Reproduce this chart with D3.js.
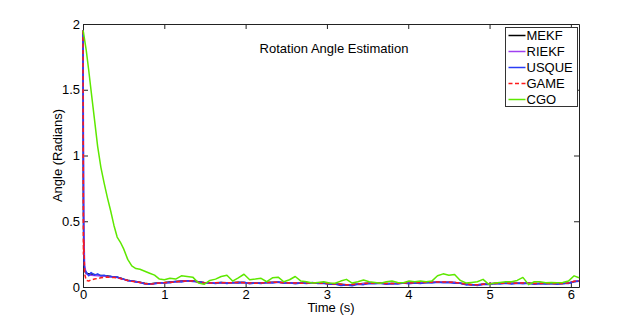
<!DOCTYPE html>
<html>
<head>
<meta charset="utf-8">
<script src="https://cdn.jsdelivr.net/npm/d3@7"></script>
<style>
    body { margin: 0; background: #fff; }
    svg { display: block; font-family: "Liberation Sans", Arial, Helvetica, sans-serif; }
</style>
</head>
<body>
<svg id="chart"></svg>
<script>
// sample times (s), shared by every series
const time = [
    0, 0.005, 0.01, 0.02, 0.04, 0.07, 0.10, 0.14, 0.18, 0.22,
    0.26, 0.30, 0.34, 0.38, 0.42, 0.46, 0.50, 0.55, 0.60, 0.65,
    0.70, 0.76, 0.82, 0.88, 0.94, 1.00,
    1.07, 1.14, 1.21, 1.28, 1.35, 1.42, 1.49, 1.56, 1.63, 1.70,
    1.77, 1.84, 1.91, 1.98, 2.05, 2.12, 2.19, 2.26, 2.33, 2.40,
    2.47, 2.54, 2.61, 2.68, 2.75, 2.82, 2.89, 2.96, 3.03, 3.10,
    3.17, 3.24, 3.31, 3.38, 3.45, 3.52, 3.59, 3.66, 3.73, 3.80,
    3.87, 3.94, 4.01, 4.08, 4.15, 4.22, 4.29, 4.36, 4.43, 4.50,
    4.57, 4.64, 4.71, 4.78, 4.85, 4.92, 4.99, 5.06, 5.13, 5.20,
    5.27, 5.34, 5.41, 5.48, 5.55, 5.62, 5.69, 5.76, 5.83, 5.90,
    5.97, 6.04, 6.10
];

const mekf = [
    1.95, 0.7, 0.22, 0.12, 0.105, 0.1, 0.098, 0.095, 0.09, 0.088,
    0.086, 0.084, 0.08, 0.078, 0.075, 0.068, 0.06, 0.052, 0.046, 0.042,
    0.036, 0.028, 0.022, 0.028, 0.032, 0.034,
    0.038, 0.042, 0.045, 0.048, 0.047, 0.04, 0.034, 0.032, 0.033, 0.034,
    0.032, 0.033, 0.036, 0.034, 0.031, 0.03, 0.031, 0.034, 0.036, 0.037,
    0.034, 0.032, 0.031, 0.03, 0.031, 0.033, 0.031, 0.029, 0.026, 0.023,
    0.02, 0.017, 0.019, 0.023, 0.026, 0.029, 0.031, 0.029, 0.027, 0.026,
    0.028, 0.031, 0.031, 0.031, 0.033, 0.035, 0.036, 0.037, 0.037, 0.036,
    0.034, 0.029, 0.022, 0.018, 0.017, 0.021, 0.025, 0.027, 0.029, 0.029,
    0.028, 0.029, 0.031, 0.029, 0.026, 0.027, 0.028, 0.027, 0.026, 0.027,
    0.031, 0.042, 0.046
];

const riekf = [
    1.95, 1.2, 0.45, 0.16, 0.1, 0.092, 0.09, 0.088, 0.086, 0.085,
    0.083, 0.08, 0.078, 0.076, 0.072, 0.066, 0.058, 0.05, 0.045, 0.04,
    0.034, 0.026, 0.02, 0.026, 0.03, 0.033,
    0.036, 0.04, 0.043, 0.046, 0.046, 0.038, 0.032, 0.03, 0.032, 0.033,
    0.03, 0.032, 0.035, 0.033, 0.03, 0.028, 0.03, 0.033, 0.035, 0.036,
    0.033, 0.03, 0.03, 0.028, 0.03, 0.032, 0.03, 0.028, 0.025, 0.022,
    0.018, 0.015, 0.018, 0.022, 0.025, 0.028, 0.03, 0.028, 0.025, 0.025,
    0.027, 0.03, 0.03, 0.03, 0.032, 0.035, 0.036, 0.037, 0.037, 0.036,
    0.034, 0.028, 0.02, 0.017, 0.016, 0.02, 0.024, 0.026, 0.028, 0.028,
    0.027, 0.028, 0.03, 0.028, 0.025, 0.026, 0.027, 0.026, 0.025, 0.026,
    0.03, 0.042, 0.045
];

const usque = [
    1.95, 0.55, 0.25, 0.13, 0.115, 0.085, 0.11, 0.09, 0.1, 0.085,
    0.09, 0.08, 0.082, 0.074, 0.076, 0.064, 0.06, 0.048, 0.047, 0.038,
    0.035, 0.022, 0.02, 0.024, 0.03, 0.03,
    0.032, 0.042, 0.038, 0.048, 0.042, 0.04, 0.028, 0.033, 0.027, 0.035,
    0.026, 0.034, 0.03, 0.036, 0.025, 0.03, 0.026, 0.035, 0.03, 0.038,
    0.028, 0.032, 0.025, 0.03, 0.026, 0.034, 0.026, 0.029, 0.02, 0.022,
    0.012, 0.016, 0.01, 0.02, 0.018, 0.027, 0.024, 0.029, 0.02, 0.026,
    0.022, 0.031, 0.025, 0.031, 0.027, 0.034, 0.03, 0.036, 0.032, 0.035,
    0.028, 0.029, 0.016, 0.019, 0.012, 0.021, 0.019, 0.027, 0.023, 0.029,
    0.022, 0.029, 0.025, 0.029, 0.02, 0.027, 0.022, 0.027, 0.021, 0.027,
    0.027, 0.04, 0.043
];

const game = [
    1.95, 0.25, 0.36, 0.1, 0.05, 0.045, 0.055, 0.06, 0.065, 0.07,
    0.074, 0.076, 0.074, 0.072, 0.07, 0.064, 0.056, 0.05, 0.044, 0.04,
    0.034, 0.026, 0.02, 0.026, 0.03, 0.033,
    0.035, 0.039, 0.043, 0.046, 0.045, 0.037, 0.031, 0.03, 0.032, 0.033,
    0.031, 0.033, 0.035, 0.033, 0.03, 0.029, 0.031, 0.034, 0.035, 0.036,
    0.033, 0.031, 0.031, 0.029, 0.03, 0.032, 0.03, 0.028, 0.026, 0.023,
    0.02, 0.017, 0.019, 0.023, 0.026, 0.028, 0.03, 0.029, 0.026, 0.026,
    0.028, 0.031, 0.031, 0.032, 0.034, 0.036, 0.037, 0.038, 0.038, 0.037,
    0.035, 0.029, 0.022, 0.018, 0.017, 0.021, 0.025, 0.027, 0.028, 0.029,
    0.028, 0.029, 0.03, 0.029, 0.026, 0.027, 0.028, 0.027, 0.026, 0.027,
    0.031, 0.043, 0.046
];

const cgo = [
    1.95, 1.94, 1.92, 1.88, 1.80, 1.65, 1.49, 1.28, 1.07, 0.91,
    0.79, 0.68, 0.58, 0.47, 0.38, 0.34, 0.29, 0.21, 0.16, 0.14,
    0.135, 0.12, 0.105, 0.09, 0.06, 0.055,
    0.066, 0.06, 0.085, 0.08, 0.075, 0.03, 0.02, 0.05, 0.06, 0.08,
    0.09, 0.045, 0.07, 0.097, 0.055, 0.06, 0.066, 0.04, 0.07, 0.075,
    0.04, 0.055, 0.08, 0.045, 0.04, 0.03, 0.035, 0.04, 0.03, 0.028,
    0.045, 0.058, 0.03, 0.04, 0.053, 0.04, 0.035, 0.028, 0.04, 0.045,
    0.035, 0.033, 0.045, 0.04, 0.045, 0.04, 0.045, 0.085, 0.10, 0.09,
    0.095, 0.05, 0.03, 0.035, 0.04, 0.058, 0.02, 0.03, 0.035, 0.04,
    0.04, 0.05, 0.073, 0.018, 0.04, 0.04, 0.033, 0.035, 0.033, 0.035,
    0.045, 0.085, 0.07
];

const seriesNames = ["MEKF", "RIEKF", "USQUE", "GAME", "CGO"];
const seriesValues = [mekf, riekf, usque, game, cgo];
const xTicks = [0, 1, 2, 3, 4, 5, 6];
const yTicks = [0, 0.5, 1, 1.5, 2];

// styles
const colors = ["#000000", "#a040f0", "#2a3cf5", "#ff1a1a", "#5ee800"];
const dashes = [null, null, null, "4,2.5", null];

const margin = { top: 24, right: 61, bottom: 36, left: 83 };
const W = 640, H = 323;
const width = W - margin.left - margin.right;
const height = H - margin.top - margin.bottom;

const svg = d3.select("#chart")
    .attr("width", W)
    .attr("height", H);

const container = svg.append("g")
    .attr("transform", `translate(${margin.left}, ${margin.top})`);

const xScale = d3.scaleLinear()
    .domain([0, 6.1])
    .range([0, width]);

const yScale = d3.scaleLinear()
    .domain([0, 2])
    .range([height, 0]);

// box + ticks on all four sides, ticks pointing in (matlab style)
const fmt = d => String(d);

container.append("g")
    .attr("class", "axis")
    .attr("transform", `translate(0, ${height})`)
    .call(d3.axisBottom(xScale).tickValues(xTicks).tickFormat(fmt).tickSize(-5).tickSizeOuter(0).tickPadding(3));

container.append("g")
    .attr("class", "axis")
    .call(d3.axisTop(xScale).tickValues(xTicks).tickFormat("").tickSize(-5).tickSizeOuter(0));

container.append("g")
    .attr("class", "axis")
    .call(d3.axisLeft(yScale).tickValues(yTicks).tickFormat(fmt).tickSize(-5).tickSizeOuter(0).tickPadding(3));

container.append("g")
    .attr("class", "axis")
    .attr("transform", `translate(${width}, 0)`)
    .call(d3.axisRight(yScale).tickValues(yTicks).tickFormat("").tickSize(-5).tickSizeOuter(0));

container.selectAll(".axis text")
    .attr("font-size", 13)
    .attr("font-family", null)
    .attr("fill", "#000");
container.selectAll(".axis path, .axis line")
    .attr("stroke", "#222");

// series lines
const line = d3.line()
    .x((d, i) => xScale(time[i]))
    .y(d => yScale(d));

container.append("g")
    .selectAll("path")
    .data(seriesValues)
    .join("path")
    .attr("d", line)
    .attr("fill", "none")
    .attr("stroke", (d, i) => colors[i])
    .attr("stroke-width", 1.5)
    .attr("stroke-dasharray", (d, i) => dashes[i])
    .attr("stroke-linejoin", "round");

// labels
container.append("text")
    .attr("x", 251)
    .attr("y", 29)
    .attr("text-anchor", "middle")
    .attr("font-size", 13)
    .text("Rotation Angle Estimation");

container.append("text")
    .attr("x", width / 2)
    .attr("y", height + 25)
    .attr("text-anchor", "middle")
    .attr("font-size", 13)
    .text("Time (s)");

container.append("text")
    .attr("transform", `translate(-21, ${height / 2}) rotate(-90)`)
    .attr("text-anchor", "middle")
    .attr("font-size", 13)
    .text("Angle (Radians)");

// legend
const legend = svg.append("g")
    .attr("transform", "translate(505.5, 27.5)");

legend.append("rect")
    .attr("width", 72)
    .attr("height", 79)
    .attr("fill", "#fff")
    .attr("stroke", "#333");

const rows = legend.selectAll("g.row")
    .data(seriesNames)
    .join("g")
    .attr("class", "row")
    .attr("transform", (d, i) => `translate(0, ${8 + i * 16})`);

rows.append("line")
    .attr("x1", 3)
    .attr("x2", 20)
    .attr("stroke", (d, i) => colors[i])
    .attr("stroke-width", 1.5)
    .attr("stroke-dasharray", (d, i) => dashes[i]);

rows.append("text")
    .attr("x", 21)
    .attr("dy", "0.36em")
    .attr("font-size", 13)
    .text(d => d);
</script>
</body>
</html>
